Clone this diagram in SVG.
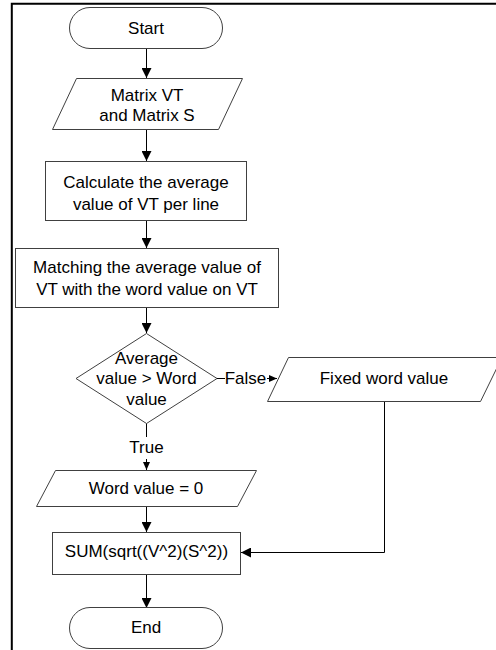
<svg xmlns="http://www.w3.org/2000/svg" width="496" height="650" viewBox="0 0 496 650">
<style>
.s{fill:#fff;stroke:#404040;stroke-width:1}
.c{fill:none;stroke:#000;stroke-width:1}
.t{font-family:"Liberation Sans",Arial,sans-serif;font-size:17px;fill:#000;text-anchor:middle}
</style>
<defs>
<marker id="arr" markerUnits="userSpaceOnUse" markerWidth="10" markerHeight="10" refX="10" refY="5" orient="auto"><path d="M0,0 L10,5 L0,10 z" fill="#000"/></marker>
<marker id="arrS" markerUnits="userSpaceOnUse" markerWidth="8" markerHeight="7" refX="8" refY="3.5" orient="auto"><path d="M0,0 L8,3.5 L0,7 z" fill="#000"/></marker>
</defs>
<rect width="496" height="650" fill="#fff"/>
<path d="M11.8,650 V3.8 H496" fill="none" stroke="#000" stroke-width="2"/>
<g id="connectors">
<path class="c" d="M146.5,49 V78" marker-end="url(#arr)"/>
<path class="c" d="M146.5,129 V161" marker-end="url(#arr)"/>
<path class="c" d="M146.5,221 V248" marker-end="url(#arr)"/>
<path class="c" d="M146.5,307 V333" marker-end="url(#arr)"/>
<path class="c" d="M217,378.5 H277" marker-end="url(#arrS)"/>
<path class="c" d="M146.5,423 V470" marker-end="url(#arrS)"/>
<path class="c" d="M146.5,506 V532" marker-end="url(#arr)"/>
<path class="c" d="M146.5,575 V608" marker-end="url(#arr)"/>
<path class="c" d="M384.5,401 V552.5 H241" marker-end="url(#arr)"/>
<rect x="225" y="369" width="42" height="19" fill="#fff"/>
<text class="t" x="245.5" y="384.3">False</text>
<rect x="128" y="437" width="37" height="22" fill="#fff"/>
<text class="t" x="146.5" y="452.7">True</text>
</g>
<g id="start">
<rect class="s" x="69.5" y="7.5" width="153" height="41" rx="20.5" ry="20.5"/>
<text class="t" x="146" y="34">Start</text>
</g>
<g id="input-matrix">
<path class="s" d="M76.5,78.5 H242.5 L218.5,129.5 H52.5 Z"/>
<text class="t" x="147" y="100.7">Matrix VT</text>
<text class="t" x="147" y="120.7">and Matrix S</text>
</g>
<g id="calc-average">
<rect class="s" x="45.5" y="161.5" width="201" height="59"/>
<text class="t" x="146" y="187.7">Calculate the average</text>
<text class="t" x="146" y="210">value of VT per line</text>
</g>
<g id="matching">
<rect class="s" x="15.5" y="248.5" width="263" height="59"/>
<text class="t" x="147" y="273.3">Matching the average value of</text>
<text class="t" x="147" y="295">VT with the word value on VT</text>
</g>
<g id="decision">
<path class="s" d="M146.5,333.5 L217,378.5 L146.5,423.5 L76,378.5 Z"/>
<text class="t" x="146.5" y="364">Average</text>
<text class="t" x="146.5" y="384.3">value &gt; Word</text>
<text class="t" x="146.5" y="405">value</text>
</g>
<g id="fixed-word-value">
<path class="s" d="M288.5,357.5 H502 L480.5,401.5 H267.5 Z"/>
<text class="t" x="384" y="384.3">Fixed word value</text>
</g>
<g id="word-value-zero">
<path class="s" d="M55.5,470.5 H256.5 L237.5,506.5 H36.5 Z"/>
<text class="t" x="146" y="494">Word value = 0</text>
</g>
<g id="sum">
<rect class="s" x="52.5" y="532.5" width="188" height="42"/>
<text class="t" x="146.5" y="556.7">SUM(sqrt((V^2)(S^2))</text>
</g>
<g id="end">
<rect class="s" x="69.5" y="607.5" width="153" height="41" rx="20.5" ry="20.5"/>
<text class="t" x="146" y="633">End</text>
</g>
</svg>
